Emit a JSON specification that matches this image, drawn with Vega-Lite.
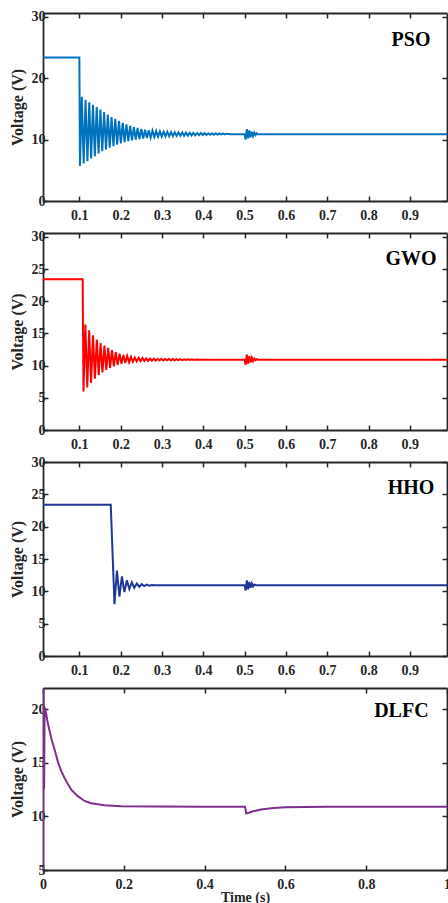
{
 "$schema": "https://vega.github.io/schema/vega-lite/v6.json",
 "padding": {"left": 9, "top": 9, "right": 1, "bottom": 1},
 "bounds": "flush",
 "spacing": 32,
 "config": {
  "view": {"stroke": null},
  "axis": {
   "labelFont": "Liberation Serif", "labelFontWeight": "bold", "labelFontSize": 14, "labelColor": "#262626",
   "titleFont": "Liberation Serif", "titleFontWeight": "bold", "titleFontSize": 16, "titleColor": "#262626",
   "domainColor": "#262626", "domainWidth": 1.8, "tickColor": "#262626", "tickWidth": 1.5,
   "tickSize": -5, "grid": false, "labelFlush": false, "labelOverlap": false
  },
  "axisX": {"labelPadding": 12, "titlePadding": 2},
  "axisY": {"labelPadding": 3, "titlePadding": 6},
  "text": {"font": "Liberation Serif", "fontWeight": "bold", "fontSize": 20, "color": "#000000", "align": "center", "baseline": "middle"}
 },
 "datasets": {
  "pso": [
   {"t":0.012,"v":23.4},{"t":0.1,"v":23.4},
   {"t":0.1015,"v":5.7},{"t":0.106,"v":17.0},
   {"t":0.1105,"v":6.1},{"t":0.115,"v":16.5},
   {"t":0.1195,"v":6.5},{"t":0.124,"v":16.1},
   {"t":0.1285,"v":6.95},{"t":0.133,"v":15.7},
   {"t":0.1375,"v":7.3},{"t":0.142,"v":15.3},
   {"t":0.1465,"v":7.75},{"t":0.151,"v":14.9},
   {"t":0.1555,"v":8.1},{"t":0.16,"v":14.5},
   {"t":0.1645,"v":8.4},{"t":0.169,"v":14.1},
   {"t":0.1735,"v":8.7},{"t":0.178,"v":13.7},
   {"t":0.1825,"v":8.95},{"t":0.187,"v":13.4},
   {"t":0.1915,"v":9.2},{"t":0.196,"v":13.05},
   {"t":0.2005,"v":9.4},{"t":0.205,"v":12.75},
   {"t":0.2095,"v":9.6},{"t":0.214,"v":12.5},
   {"t":0.2185,"v":9.75},{"t":0.223,"v":12.25},
   {"t":0.2275,"v":9.9},{"t":0.232,"v":12.05},
   {"t":0.2365,"v":10.0},{"t":0.241,"v":11.9},
   {"t":0.2455,"v":10.1},{"t":0.25,"v":11.75},
   {"t":0.2545,"v":10.2},{"t":0.259,"v":11.62},
   {"t":0.2635,"v":10.28},{"t":0.268,"v":11.52},
   {"t":0.2725,"v":10.35},{"t":0.277,"v":11.45},
   {"t":0.2815,"v":10.42},{"t":0.286,"v":11.4},
   {"t":0.2905,"v":10.46},{"t":0.295,"v":11.35},
   {"t":0.2995,"v":10.5},{"t":0.304,"v":11.3},
   {"t":0.3085,"v":10.53},{"t":0.313,"v":11.27},
   {"t":0.3175,"v":10.56},{"t":0.322,"v":11.24},
   {"t":0.3265,"v":10.59},{"t":0.331,"v":11.21},
   {"t":0.3355,"v":10.61},{"t":0.34,"v":11.19},
   {"t":0.3445,"v":10.63},{"t":0.349,"v":11.17},
   {"t":0.3535,"v":10.65},{"t":0.358,"v":11.15},
   {"t":0.3625,"v":10.67},{"t":0.367,"v":11.13},
   {"t":0.3715,"v":10.69},{"t":0.376,"v":11.11},
   {"t":0.3805,"v":10.71},{"t":0.385,"v":11.09},
   {"t":0.3895,"v":10.73},{"t":0.394,"v":11.07},
   {"t":0.3985,"v":10.75},{"t":0.403,"v":11.05},
   {"t":0.4075,"v":10.77},{"t":0.412,"v":11.04},
   {"t":0.4165,"v":10.79},{"t":0.421,"v":11.03},
   {"t":0.4255,"v":10.81},{"t":0.43,"v":11.02},
   {"t":0.4345,"v":10.83},{"t":0.439,"v":11.01},
   {"t":0.4435,"v":10.85},{"t":0.448,"v":11.0},
   {"t":0.4525,"v":10.86},{"t":0.457,"v":10.98},
   {"t":0.466,"v":10.9},{"t":0.5,"v":10.9},
   {"t":0.5025,"v":10.0},{"t":0.5055,"v":11.7},{"t":0.5085,"v":10.2},{"t":0.5115,"v":11.5},
   {"t":0.5145,"v":10.4},{"t":0.5175,"v":11.3},{"t":0.5205,"v":10.6},{"t":0.5235,"v":11.15},
   {"t":0.5265,"v":10.75},{"t":0.5295,"v":11.05},{"t":0.5325,"v":10.85},{"t":0.536,"v":10.9},
   {"t":0.99,"v":10.9}
  ],
  "gwo": [
   {"t":0.012,"v":23.4},{"t":0.108,"v":23.4},
   {"t":0.11,"v":6.0},{"t":0.1146,"v":16.4},
   {"t":0.1192,"v":6.6},{"t":0.1238,"v":15.5},
   {"t":0.1284,"v":7.3},{"t":0.133,"v":14.7},
   {"t":0.1376,"v":7.95},{"t":0.1422,"v":14.05},
   {"t":0.1468,"v":8.5},{"t":0.1514,"v":13.5},
   {"t":0.156,"v":8.95},{"t":0.1606,"v":13.1},
   {"t":0.1652,"v":9.35},{"t":0.1698,"v":12.75},
   {"t":0.1744,"v":9.65},{"t":0.179,"v":12.4},
   {"t":0.1836,"v":9.9},{"t":0.1882,"v":12.1},
   {"t":0.1928,"v":10.12},{"t":0.1974,"v":11.85},
   {"t":0.202,"v":10.28},{"t":0.2066,"v":11.65},
   {"t":0.2112,"v":10.42},{"t":0.2158,"v":11.5},
   {"t":0.2204,"v":10.53},{"t":0.225,"v":11.36},
   {"t":0.2296,"v":10.6},{"t":0.2342,"v":11.26},
   {"t":0.2388,"v":10.66},{"t":0.2434,"v":11.2},
   {"t":0.248,"v":10.7},{"t":0.2526,"v":11.16},
   {"t":0.2572,"v":10.73},{"t":0.2618,"v":11.13},
   {"t":0.2664,"v":10.75},{"t":0.271,"v":11.1},
   {"t":0.2756,"v":10.77},{"t":0.2802,"v":11.08},
   {"t":0.2848,"v":10.79},{"t":0.2894,"v":11.06},
   {"t":0.294,"v":10.8},{"t":0.2986,"v":11.05},
   {"t":0.3032,"v":10.81},{"t":0.3078,"v":11.04},
   {"t":0.3124,"v":10.82},{"t":0.317,"v":11.03},
   {"t":0.3216,"v":10.83},{"t":0.3262,"v":11.02},
   {"t":0.3308,"v":10.84},{"t":0.3354,"v":11.01},
   {"t":0.34,"v":10.85},{"t":0.3446,"v":11.0},
   {"t":0.3492,"v":10.86},{"t":0.3538,"v":10.99},
   {"t":0.3584,"v":10.87},{"t":0.363,"v":10.98},
   {"t":0.3676,"v":10.88},{"t":0.3722,"v":10.97},
   {"t":0.3768,"v":10.89},{"t":0.3814,"v":10.96},
   {"t":0.39,"v":10.93},{"t":0.5,"v":10.93},
   {"t":0.5025,"v":10.1},{"t":0.5055,"v":11.7},{"t":0.5085,"v":10.3},{"t":0.5115,"v":11.45},
   {"t":0.5145,"v":10.5},{"t":0.5175,"v":11.25},{"t":0.5205,"v":10.7},{"t":0.5235,"v":11.1},
   {"t":0.5265,"v":10.82},{"t":0.5295,"v":11.0},{"t":0.533,"v":10.93},
   {"t":0.99,"v":10.93}
  ],
  "hho": [
   {"t":0.012,"v":23.4},{"t":0.176,"v":23.4},{"t":0.185,"v":8.0},{"t":0.191,"v":13.2},
   {"t":0.197,"v":9.2},{"t":0.203,"v":12.3},{"t":0.209,"v":9.9},{"t":0.215,"v":11.7},
   {"t":0.221,"v":10.35},{"t":0.227,"v":11.4},{"t":0.233,"v":10.55},{"t":0.239,"v":11.2},
   {"t":0.245,"v":10.7},{"t":0.251,"v":11.1},{"t":0.257,"v":10.8},{"t":0.263,"v":11.03},
   {"t":0.269,"v":10.88},{"t":0.275,"v":10.99},{"t":0.281,"v":10.93},{"t":0.29,"v":10.95},
   {"t":0.5,"v":10.95},
   {"t":0.5025,"v":10.1},{"t":0.5055,"v":11.7},{"t":0.5085,"v":10.3},{"t":0.5115,"v":11.45},
   {"t":0.5145,"v":10.55},{"t":0.5175,"v":11.2},{"t":0.5205,"v":10.75},{"t":0.5235,"v":11.05},
   {"t":0.527,"v":10.95},{"t":0.99,"v":10.95}
  ],
  "dlfc": [
   {"t":0,"v":5},{"t":0.0008,"v":23},{"t":0.0018,"v":19.8},{"t":0.0028,"v":12.6},{"t":0.004,"v":20.2},
   {"t":0.0067,"v":19.8},{"t":0.012,"v":18.7},{"t":0.0205,"v":17.3},{"t":0.029,"v":16.2},
   {"t":0.037,"v":15.1},{"t":0.045,"v":14.26},{"t":0.054,"v":13.55},{"t":0.062,"v":13.0},
   {"t":0.07,"v":12.5},{"t":0.086,"v":11.9},{"t":0.103,"v":11.45},{"t":0.119,"v":11.24},
   {"t":0.152,"v":11.05},{"t":0.193,"v":10.96},{"t":0.276,"v":10.92},{"t":0.4,"v":10.9},
   {"t":0.5,"v":10.9},{"t":0.503,"v":10.3},{"t":0.51,"v":10.35},{"t":0.52,"v":10.48},
   {"t":0.54,"v":10.65},{"t":0.57,"v":10.78},{"t":0.6,"v":10.85},{"t":0.65,"v":10.88},
   {"t":0.7,"v":10.9},{"t":1.0,"v":10.9}
  ],
  "lab": [
   {"p":"PSO","t":0.903,"v":26.3},
   {"p":"GWO","t":0.903,"v":26.6},
   {"p":"HHO","t":0.903,"v":26.0},
   {"p":"DLFC","t":0.887,"v":19.85}
  ]
 },
 "vconcat": [
  {
   "width": 404, "height": 188,
   "resolve": {"axis": {"x": "independent", "y": "independent"}},
   "layer": [
    {"data": {"name": "pso"}, "mark": {"type": "line", "color": "#0072BD", "strokeWidth": 2, "clip": true},
     "encoding": {
      "x": {"field": "t", "type": "quantitative", "scale": {"domain": [0.012, 0.99], "nice": false, "zero": false},
            "axis": {"orient": "bottom", "values": [0.1,0.2,0.3,0.4,0.5,0.6,0.7,0.8,0.9], "format": "~g", "title": null}},
      "y": {"field": "v", "type": "quantitative", "scale": {"domain": [0, 30.65], "nice": false},
            "axis": {"orient": "left", "values": [0,10,20,30], "format": "d", "title": "Voltage (V)"}}
     }},
    {"data": {"name": "lab"}, "transform": [{"filter": "datum.p == 'PSO'"}], "mark": {"type": "text"},
     "encoding": {
      "x": {"field": "t", "type": "quantitative", "scale": {"domain": [0.012, 0.99], "nice": false, "zero": false},
            "axis": {"orient": "top", "values": [0.1,0.2,0.3,0.4,0.5,0.6,0.7,0.8,0.9], "labels": false, "title": null}},
      "y": {"field": "v", "type": "quantitative", "scale": {"domain": [0, 30.65], "nice": false},
            "axis": {"orient": "right", "values": [0,10,20,30], "labels": false, "title": null}},
      "text": {"field": "p"}
     }}
   ]
  },
  {
   "width": 404, "height": 197,
   "resolve": {"axis": {"x": "independent", "y": "independent"}},
   "layer": [
    {"data": {"name": "gwo"}, "mark": {"type": "line", "color": "#FF0000", "strokeWidth": 2, "clip": true},
     "encoding": {
      "x": {"field": "t", "type": "quantitative", "scale": {"domain": [0.012, 0.99], "nice": false, "zero": false},
            "axis": {"orient": "bottom", "values": [0.1,0.2,0.3,0.4,0.5,0.6,0.7,0.8,0.9], "format": "~g", "title": null}},
      "y": {"field": "v", "type": "quantitative", "scale": {"domain": [0, 30.6], "nice": false},
            "axis": {"orient": "left", "values": [0,5,10,15,20,25,30], "format": "d", "title": "Voltage (V)"}}
     }},
    {"data": {"name": "lab"}, "transform": [{"filter": "datum.p == 'GWO'"}], "mark": {"type": "text"},
     "encoding": {
      "x": {"field": "t", "type": "quantitative", "scale": {"domain": [0.012, 0.99], "nice": false, "zero": false},
            "axis": {"orient": "top", "values": [0.1,0.2,0.3,0.4,0.5,0.6,0.7,0.8,0.9], "labels": false, "title": null}},
      "y": {"field": "v", "type": "quantitative", "scale": {"domain": [0, 30.6], "nice": false},
            "axis": {"orient": "right", "values": [0,5,10,15,20,25,30], "labels": false, "title": null}},
      "text": {"field": "p"}
     }}
   ]
  },
  {
   "width": 404, "height": 194,
   "resolve": {"axis": {"x": "independent", "y": "independent"}},
   "layer": [
    {"data": {"name": "hho"}, "mark": {"type": "line", "color": "#1F3797", "strokeWidth": 2, "clip": true},
     "encoding": {
      "x": {"field": "t", "type": "quantitative", "scale": {"domain": [0.012, 0.99], "nice": false, "zero": false},
            "axis": {"orient": "bottom", "values": [0.1,0.2,0.3,0.4,0.5,0.6,0.7,0.8,0.9], "format": "~g", "title": null}},
      "y": {"field": "v", "type": "quantitative", "scale": {"domain": [0, 30], "nice": false},
            "axis": {"orient": "left", "values": [0,5,10,15,20,25,30], "format": "d", "title": "Voltage (V)"}}
     }},
    {"data": {"name": "lab"}, "transform": [{"filter": "datum.p == 'HHO'"}], "mark": {"type": "text"},
     "encoding": {
      "x": {"field": "t", "type": "quantitative", "scale": {"domain": [0.012, 0.99], "nice": false, "zero": false},
            "axis": {"orient": "top", "values": [0.1,0.2,0.3,0.4,0.5,0.6,0.7,0.8,0.9], "labels": false, "title": null}},
      "y": {"field": "v", "type": "quantitative", "scale": {"domain": [0, 30], "nice": false},
            "axis": {"orient": "right", "values": [0,5,10,15,20,25,30], "labels": false, "title": null}},
      "text": {"field": "p"}
     }}
   ]
  },
  {
   "width": 404, "height": 182,
   "resolve": {"axis": {"x": "independent", "y": "independent"}},
   "layer": [
    {"data": {"name": "dlfc"}, "mark": {"type": "line", "color": "#7E2F8E", "strokeWidth": 2, "clip": true},
     "encoding": {
      "x": {"field": "t", "type": "quantitative", "scale": {"domain": [0, 1], "nice": false, "zero": false},
            "axis": {"orient": "bottom", "values": [0,0.2,0.4,0.6,0.8,1], "format": "~g", "title": "Time (s)", "titleFontSize": 14, "titlePadding": -1}},
      "y": {"field": "v", "type": "quantitative", "scale": {"domain": [5, 22], "nice": false, "zero": false},
            "axis": {"orient": "left", "values": [5,10,15,20], "format": "d", "title": "Voltage (V)"}}
     }},
    {"data": {"name": "lab"}, "transform": [{"filter": "datum.p == 'DLFC'"}], "mark": {"type": "text"},
     "encoding": {
      "x": {"field": "t", "type": "quantitative", "scale": {"domain": [0, 1], "nice": false, "zero": false},
            "axis": {"orient": "top", "values": [0,0.2,0.4,0.6,0.8,1], "labels": false, "title": null}},
      "y": {"field": "v", "type": "quantitative", "scale": {"domain": [5, 22], "nice": false, "zero": false},
            "axis": {"orient": "right", "values": [5,10,15,20], "labels": false, "title": null}},
      "text": {"field": "p"}
     }}
   ]
  }
 ]
}
